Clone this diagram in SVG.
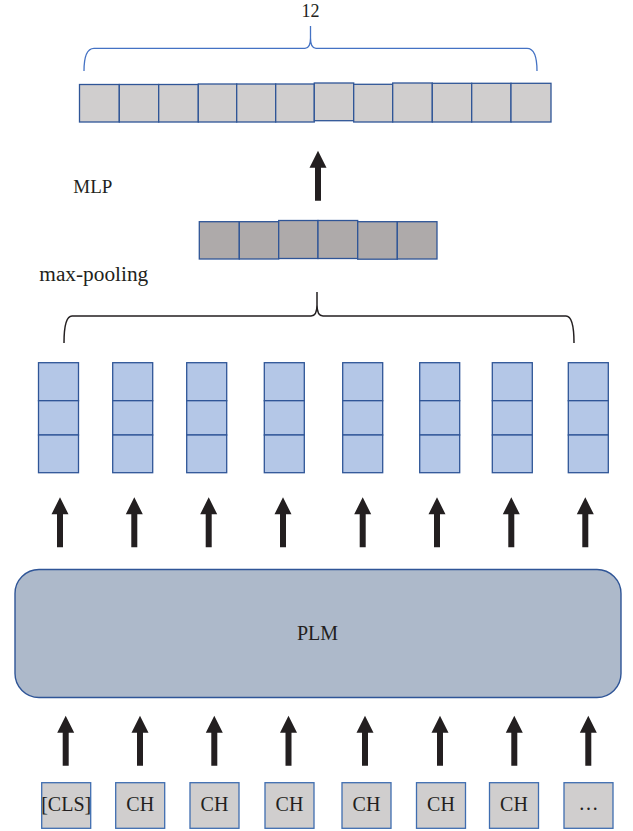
<svg xmlns="http://www.w3.org/2000/svg" xmlns:xlink="http://www.w3.org/1999/xlink" width="633" height="831" viewBox="0 0 633 831">
  <style>
    text { font-family: "Liberation Serif", "Times New Roman", serif; fill: #231f20; }
    .lbl { font-size: 19px; }
    .tok { font-size: 20px; text-anchor: middle; }
    .out { fill: #d0cece; stroke: #2f5597; stroke-width: 1.3; }
    .pool { fill: #aeaaaa; stroke: #2f5597; stroke-width: 1.3; }
    .hid { fill: #b4c7e7; stroke: #2f5597; stroke-width: 1.3; }
    .inp { fill: #d0cece; stroke: #3f6db0; stroke-width: 1.3; }
    .plm { fill: #adb9ca; stroke: #2f5597; stroke-width: 1.4; }
    .arrow { fill: #231f20; }
  </style>
  <defs>
    <!-- upward block arrow, tip at the origin -->
    <path id="up" class="arrow" d="M0,0 L8.5,17 L3,17 L3,50 L-3,50 L-3,17 L-8.5,17 Z"/>
  </defs>
  <rect width="633" height="831" fill="#ffffff"/>

  <!-- output vector of 12 cells -->
  <g id="output-vector">
    <path d="M84,71 Q84,48.3 94,48.3 L305,48.3 Q310.5,48.3 310.5,38 L310.5,26 L310.5,38 Q310.5,48.3 316,48.3 L527,48.3 Q537,48.3 537,71" fill="none" stroke="#4472c4" stroke-width="1.3"/>
    <text class="lbl" x="310.5" y="17" text-anchor="middle" style="font-size:18px">12</text>
    <rect class="out" x="79.5" y="84.5" width="39.8" height="37.5"/>
    <rect class="out" x="119.3" y="84.5" width="39.4" height="37.5"/>
    <rect class="out" x="158.7" y="84.5" width="39.6" height="37.5"/>
    <rect class="out" x="198.3" y="84" width="38.4" height="38"/>
    <rect class="out" x="236.7" y="84" width="39" height="38"/>
    <rect class="out" x="275.7" y="84" width="38.6" height="38"/>
    <rect class="out" x="314.3" y="83" width="39.4" height="37.7"/>
    <rect class="out" x="353.7" y="84.3" width="39" height="37.7"/>
    <rect class="out" x="392.7" y="83" width="39.6" height="39"/>
    <rect class="out" x="432.3" y="83.3" width="39.4" height="38.7"/>
    <rect class="out" x="471.7" y="83.3" width="39.3" height="38.7"/>
    <rect class="out" x="511" y="83.3" width="40" height="38.7"/>
  </g>

  <g id="mlp-label">
    <text class="lbl" x="73.3" y="193">MLP</text>
  </g>

  <!-- pooled vector of 6 cells -->
  <g id="pooled-vector">
    <rect class="pool" x="199.3" y="221.7" width="40" height="37.3"/>
    <rect class="pool" x="239.3" y="221.7" width="39.4" height="37.3"/>
    <rect class="pool" x="278.7" y="220.5" width="39.3" height="38"/>
    <rect class="pool" x="318" y="220.5" width="39.7" height="38"/>
    <rect class="pool" x="357.7" y="221.7" width="39.6" height="37.5"/>
    <rect class="pool" x="397.3" y="221.7" width="39.7" height="37.3"/>
  </g>

  <g id="max-pooling">
    <text class="lbl" x="39.3" y="281" style="font-size:20px" textLength="109" lengthAdjust="spacingAndGlyphs">max-pooling</text>
    <path d="M64,343 Q64,316 72,316 L311,316 Q317,316 317,305 L317,292 L317,305 Q317,316 323,316 L566,316 Q574,316 574,343" fill="none" stroke="#231f20" stroke-width="1.5"/>
  </g>

  <!-- token hidden states, 3 cells each -->
  <g id="hidden-0"><rect class="hid" x="38.5" y="362.7" width="40" height="38"/><rect class="hid" x="38.5" y="400.7" width="40" height="34.3"/><rect class="hid" x="38.5" y="435" width="40" height="37.7"/></g>
  <g id="hidden-1"><rect class="hid" x="112.7" y="362.7" width="40" height="38"/><rect class="hid" x="112.7" y="400.7" width="40" height="34.3"/><rect class="hid" x="112.7" y="435" width="40" height="37.7"/></g>
  <g id="hidden-2"><rect class="hid" x="186.7" y="362.7" width="40" height="38"/><rect class="hid" x="186.7" y="400.7" width="40" height="34.3"/><rect class="hid" x="186.7" y="435" width="40" height="37.7"/></g>
  <g id="hidden-3"><rect class="hid" x="264.3" y="362.7" width="40" height="38"/><rect class="hid" x="264.3" y="400.7" width="40" height="34.3"/><rect class="hid" x="264.3" y="435" width="40" height="37.7"/></g>
  <g id="hidden-4"><rect class="hid" x="342.7" y="362.7" width="40" height="38"/><rect class="hid" x="342.7" y="400.7" width="40" height="34.3"/><rect class="hid" x="342.7" y="435" width="40" height="37.7"/></g>
  <g id="hidden-5"><rect class="hid" x="419.7" y="362.7" width="40" height="38"/><rect class="hid" x="419.7" y="400.7" width="40" height="34.3"/><rect class="hid" x="419.7" y="435" width="40" height="37.7"/></g>
  <g id="hidden-6"><rect class="hid" x="492.3" y="362.7" width="40" height="38"/><rect class="hid" x="492.3" y="400.7" width="40" height="34.3"/><rect class="hid" x="492.3" y="435" width="40" height="37.7"/></g>
  <g id="hidden-7"><rect class="hid" x="568.3" y="362.7" width="40" height="38"/><rect class="hid" x="568.3" y="400.7" width="40" height="34.3"/><rect class="hid" x="568.3" y="435" width="40" height="37.7"/></g>

  <!-- pretrained language model -->
  <g id="plm">
    <rect class="plm" x="15" y="569.5" width="606" height="128" rx="24" ry="24"/>
    <text class="tok" x="317.5" y="640">PLM</text>
  </g>

  <!-- input tokens -->
  <g id="tok-0"><rect class="inp" x="41.7" y="782.7" width="49" height="45.6"/><text class="tok" x="66.2" y="811">[CLS]</text></g>
  <g id="tok-1"><rect class="inp" x="115.7" y="782.7" width="49" height="45.6"/><text class="tok" x="140.2" y="811">CH</text></g>
  <g id="tok-2"><rect class="inp" x="190" y="782.7" width="49" height="45.6"/><text class="tok" x="214.5" y="811">CH</text></g>
  <g id="tok-3"><rect class="inp" x="265" y="782.7" width="49" height="45.6"/><text class="tok" x="289.5" y="811">CH</text></g>
  <g id="tok-4"><rect class="inp" x="342" y="782.7" width="49" height="45.6"/><text class="tok" x="366.5" y="811">CH</text></g>
  <g id="tok-5"><rect class="inp" x="416.5" y="782.7" width="49" height="45.6"/><text class="tok" x="441" y="811">CH</text></g>
  <g id="tok-6"><rect class="inp" x="489.5" y="782.7" width="49" height="45.6"/><text class="tok" x="514" y="811">CH</text></g>
  <g id="tok-7"><rect class="inp" x="564" y="782.7" width="49" height="45.6"/><text class="tok" x="588.5" y="810">…</text></g>

  <!-- connectors -->
  <g id="connectors">
    <use xlink:href="#up" x="318" y="150.7"/>
    <use xlink:href="#up" x="60" y="497.3"/>
    <use xlink:href="#up" x="134.3" y="497.3"/>
    <use xlink:href="#up" x="208.7" y="497.3"/>
    <use xlink:href="#up" x="283" y="497.3"/>
    <use xlink:href="#up" x="362.7" y="497.3"/>
    <use xlink:href="#up" x="437" y="497.3"/>
    <use xlink:href="#up" x="511.3" y="497.3"/>
    <use xlink:href="#up" x="585.3" y="497.3"/>
    <use xlink:href="#up" x="65.7" y="715.7"/>
    <use xlink:href="#up" x="140" y="715.7"/>
    <use xlink:href="#up" x="214.3" y="715.7"/>
    <use xlink:href="#up" x="288.5" y="715.7"/>
    <use xlink:href="#up" x="365" y="715.7"/>
    <use xlink:href="#up" x="440" y="715.7"/>
    <use xlink:href="#up" x="514.3" y="715.7"/>
    <use xlink:href="#up" x="588.3" y="715.7"/>
  </g>
</svg>
